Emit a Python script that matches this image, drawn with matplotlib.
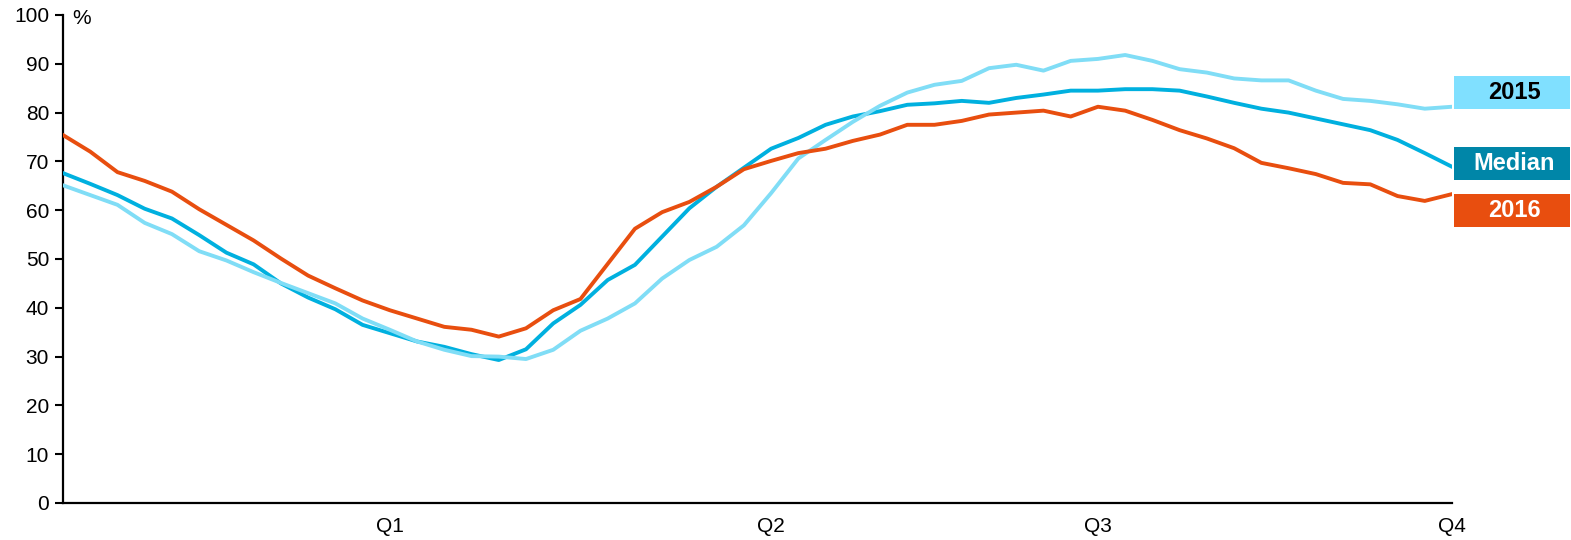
import matplotlib
matplotlib.use("Agg")
import matplotlib.pyplot as plt
import numpy as np

plt.rcParams['font.family'] = ['Liberation Sans', 'DejaVu Sans']

weeks = list(range(52))
quarter_ticks = [12, 26, 38, 51]
quarter_labels = ["Q1", "Q2", "Q3", "Q4"]

series_2016 = [75.4, 72.0, 67.8, 66.0, 63.8, 60.2, 57.0, 53.8, 50.1, 46.6,
               44.0, 41.5, 39.5, 37.8, 36.1, 35.5, 34.1, 35.8, 39.5, 41.8,
               49.0, 56.2, 59.6, 61.7, 64.8, 68.4, 70.1, 71.7, 72.6, 74.2,
               75.5, 77.5, 77.5, 78.3, 79.6, 80.0, 80.4, 79.2, 81.2, 80.4,
               78.5, 76.4, 74.7, 72.7, 69.7, 68.6, 67.4, 65.6, 65.3, 62.9,
               61.9, 63.3]
series_median = [67.6, 65.4, 63.1, 60.3, 58.3, 54.9, 51.3, 48.9, 45.0, 42.1,
                 39.7, 36.5, 34.8, 33.1, 32.0, 30.5, 29.3, 31.5, 36.8, 40.6,
                 45.7, 48.8, 54.6, 60.4, 64.8, 68.7, 72.6, 74.8, 77.5, 79.2,
                 80.3, 81.6, 81.9, 82.4, 82.0, 83.0, 83.7, 84.5, 84.5, 84.8,
                 84.8, 84.5, 83.3, 82.0, 80.8, 80.0, 78.8, 77.6, 76.4, 74.4,
                 71.7, 68.9]
series_2015 = [65.1, 63.1, 61.1, 57.4, 55.1, 51.6, 49.7, 47.3, 45.1, 43.0,
               40.9, 37.8, 35.5, 33.1, 31.4, 30.1, 30.0, 29.5, 31.4, 35.3,
               37.8, 40.9, 46.0, 49.8, 52.5, 56.9, 63.5, 70.6, 74.4, 78.1,
               81.4, 84.1, 85.7, 86.5, 89.1, 89.8, 88.6, 90.6, 91.0, 91.8,
               90.6, 88.9, 88.2, 87.0, 86.6, 86.6, 84.5, 82.8, 82.4, 81.7,
               80.8, 81.2]

c_2016 = "#E84E0F"
c_median = "#00B0DF"
c_2015 = "#80DDF6"
c_median_box = "#0086A8"
c_2015_box = "#80E0FF"

fig = plt.figure(figsize=(15.71, 5.40), dpi=100)
ax = fig.add_axes([63/1571, 1-503/540, (1452-63)/1571, (503-15)/540])

ax.plot(weeks, series_median, color=c_median, lw=2.8, zorder=3)
ax.plot(weeks, series_2015, color=c_2015, lw=2.8, zorder=4)
ax.plot(weeks, series_2016, color=c_2016, lw=2.8, zorder=5)

ax.set_xlim(0, 51)
ax.set_ylim(0, 100)
ax.set_yticks(range(0, 101, 10))
ax.set_xticks(quarter_ticks)
ax.set_xticklabels(quarter_labels)
ax.tick_params(axis='y', direction='out', length=6, width=1.5, labelsize=15, pad=4, colors='black')
ax.tick_params(axis='x', length=0, labelsize=15, pad=10)
for s in ['top', 'right']:
    ax.spines[s].set_visible(False)
for s in ['left', 'bottom']:
    ax.spines[s].set_linewidth(1.6)
    ax.spines[s].set_color('black')

ax.text(82/1571, 1-18/540, "%", transform=fig.transFigure, fontsize=15,
        ha='center', va='center')

labels = [("2015", 84.1, c_2015_box, "black"),
          ("Median", 69.5, c_median_box, "white"),
          ("2016", 60.0, c_2016, "white")]
for txt, yv, bg, fg in labels:
    yfig = ax.transData.transform((0, yv))[1] / fig.bbox.height
    fig.patches.append(plt.Rectangle((1454/1571, yfig - 16.5/540), 116/1571, 33/540,
                                     transform=fig.transFigure, facecolor=bg,
                                     edgecolor='none', zorder=1))
    fig.text(1514/1571, yfig, txt, fontsize=17, fontweight='bold', color=fg,
             ha='center', va='center', zorder=2)

fig.savefig("out.png", dpi=100)
